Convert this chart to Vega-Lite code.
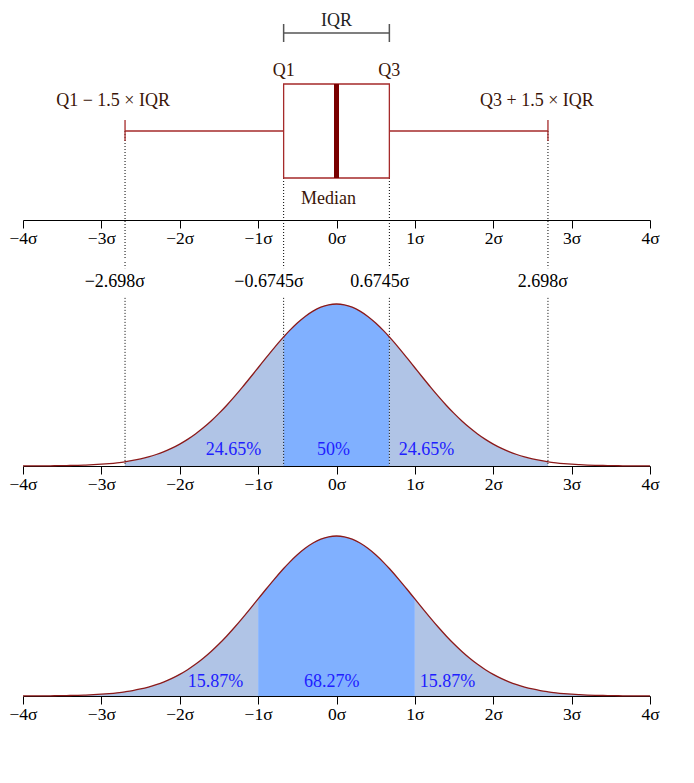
{
  "$schema": "https://vega.github.io/schema/vega-lite/v6.json",
  "padding": {"left": 8, "top": 10, "right": 5, "bottom": 5},
  "spacing": 0,
  "background": "white",
  "config": {
    "view": {"stroke": null},
    "font": "Liberation Serif",
    "axis": {"labelFont": "Liberation Serif", "labelFontSize": 17.5, "labelColor": "#000000", "tickColor": "#000000", "domainColor": "#000000", "tickSize": 8, "labelPadding": 1, "grid": false, "title": null, "labelFlush": false, "labelOverlap": false},
    "text": {"font": "Liberation Serif", "fontSize": 18}
  },
  "datasets": {
    "box": [{"lower": -2.698, "q1": -0.6745, "median": 0, "q3": 0.6745, "upper": 2.698}],
    "cuts": [
      {"x": -2.698, "label": "−2.698σ"},
      {"x": -0.6745, "label": "−0.6745σ"},
      {"x": 0.6745, "label": "0.6745σ"},
      {"x": 2.698, "label": "2.698σ"}
    ],
    "pdf": [
      {"x": -4.0, "y": 0.00013}, {"x": -3.9, "y": 0.0002}, {"x": -3.8, "y": 0.00029}, {"x": -3.7, "y": 0.00042}, {"x": -3.6, "y": 0.00061},
      {"x": -3.5, "y": 0.00087}, {"x": -3.4, "y": 0.00123}, {"x": -3.3, "y": 0.00172}, {"x": -3.2, "y": 0.00238}, {"x": -3.1, "y": 0.00327},
      {"x": -3.0, "y": 0.00443}, {"x": -2.9, "y": 0.00595}, {"x": -2.8, "y": 0.00792}, {"x": -2.7, "y": 0.01042}, {"x": -2.698, "y": 0.01048},
      {"x": -2.6, "y": 0.01358}, {"x": -2.5, "y": 0.01753}, {"x": -2.4, "y": 0.02239}, {"x": -2.3, "y": 0.02833}, {"x": -2.2, "y": 0.03547},
      {"x": -2.1, "y": 0.04398}, {"x": -2.0, "y": 0.05399}, {"x": -1.9, "y": 0.06562}, {"x": -1.8, "y": 0.07895}, {"x": -1.7, "y": 0.09405},
      {"x": -1.6, "y": 0.11092}, {"x": -1.5, "y": 0.12952}, {"x": -1.4, "y": 0.14973}, {"x": -1.3, "y": 0.17137}, {"x": -1.2, "y": 0.19419},
      {"x": -1.1, "y": 0.21785}, {"x": -1.0, "y": 0.24197}, {"x": -0.9, "y": 0.26609}, {"x": -0.8, "y": 0.28969}, {"x": -0.7, "y": 0.31225},
      {"x": -0.6745, "y": 0.31777}, {"x": -0.6, "y": 0.33322}, {"x": -0.5, "y": 0.35207}, {"x": -0.4, "y": 0.36827}, {"x": -0.3, "y": 0.38139},
      {"x": -0.2, "y": 0.39104}, {"x": -0.1, "y": 0.39695}, {"x": 0.0, "y": 0.39894}, {"x": 0.1, "y": 0.39695}, {"x": 0.2, "y": 0.39104},
      {"x": 0.3, "y": 0.38139}, {"x": 0.4, "y": 0.36827}, {"x": 0.5, "y": 0.35207}, {"x": 0.6, "y": 0.33322}, {"x": 0.6745, "y": 0.31777},
      {"x": 0.7, "y": 0.31225}, {"x": 0.8, "y": 0.28969}, {"x": 0.9, "y": 0.26609}, {"x": 1.0, "y": 0.24197}, {"x": 1.1, "y": 0.21785},
      {"x": 1.2, "y": 0.19419}, {"x": 1.3, "y": 0.17137}, {"x": 1.4, "y": 0.14973}, {"x": 1.5, "y": 0.12952}, {"x": 1.6, "y": 0.11092},
      {"x": 1.7, "y": 0.09405}, {"x": 1.8, "y": 0.07895}, {"x": 1.9, "y": 0.06562}, {"x": 2.0, "y": 0.05399}, {"x": 2.1, "y": 0.04398},
      {"x": 2.2, "y": 0.03547}, {"x": 2.3, "y": 0.02833}, {"x": 2.4, "y": 0.02239}, {"x": 2.5, "y": 0.01753}, {"x": 2.6, "y": 0.01358},
      {"x": 2.698, "y": 0.01048}, {"x": 2.7, "y": 0.01042}, {"x": 2.8, "y": 0.00792}, {"x": 2.9, "y": 0.00595}, {"x": 3.0, "y": 0.00443},
      {"x": 3.1, "y": 0.00327}, {"x": 3.2, "y": 0.00238}, {"x": 3.3, "y": 0.00172}, {"x": 3.4, "y": 0.00123}, {"x": 3.5, "y": 0.00087},
      {"x": 3.6, "y": 0.00061}, {"x": 3.7, "y": 0.00042}, {"x": 3.8, "y": 0.00029}, {"x": 3.9, "y": 0.0002}, {"x": 4.0, "y": 0.00013}
    ],
    "pct_iqr": [
      {"x": -1.314, "label": "24.65%"},
      {"x": -0.038, "label": "50%"},
      {"x": 1.148, "label": "24.65%"}
    ],
    "pct_sigma": [
      {"x": -1.544, "label": "15.87%"},
      {"x": -0.06, "label": "68.27%"},
      {"x": 1.416, "label": "15.87%"}
    ]
  },
  "vconcat": [
    {
      "width": 627,
      "height": 250,
      "data": {"name": "box"},
      "encoding": {
        "y": {"type": "quantitative", "scale": {"domain": [-40, 210], "nice": false, "zero": false}, "axis": null}
      },
      "layer": [
        {
          "data": {"name": "cuts"},
          "transform": [{"filter": "abs(datum.x) > 1"}],
          "mark": {"type": "rule", "color": "#000000", "strokeWidth": 1, "strokeDash": [1, 2]},
          "encoding": {
            "x": {"field": "x", "type": "quantitative", "scale": {"domain": [-4, 4], "nice": false, "zero": false}, "axis": {"offset": -40, "values": [-4, -3, -2, -1, 0, 1, 2, 3, 4], "labelExpr": "replace(format(datum.value, 'd'), '-', '−') + 'σ'"}},
            "y": {"datum": 89}, "y2": {"datum": -40}
          }
        },
        {
          "data": {"name": "cuts"},
          "transform": [{"filter": "abs(datum.x) < 1"}],
          "mark": {"type": "rule", "color": "#000000", "strokeWidth": 1, "strokeDash": [1, 2]},
          "encoding": {"x": {"field": "x", "type": "quantitative"}, "y": {"datum": 42}, "y2": {"datum": -40}}
        },
        {
          "mark": {"type": "rule", "color": "#A52A2A", "strokeWidth": 1.3},
          "encoding": {"x": {"field": "lower", "type": "quantitative"}, "x2": {"field": "q1"}, "y": {"datum": 89}}
        },
        {
          "mark": {"type": "rule", "color": "#A52A2A", "strokeWidth": 1.3},
          "encoding": {"x": {"field": "q3", "type": "quantitative"}, "x2": {"field": "upper"}, "y": {"datum": 89}}
        },
        {
          "mark": {"type": "rule", "color": "#A52A2A", "strokeWidth": 1.3},
          "encoding": {"x": {"field": "lower", "type": "quantitative"}, "y": {"datum": 79}, "y2": {"datum": 100}}
        },
        {
          "mark": {"type": "rule", "color": "#A52A2A", "strokeWidth": 1.3},
          "encoding": {"x": {"field": "upper", "type": "quantitative"}, "y": {"datum": 79}, "y2": {"datum": 100}}
        },
        {
          "mark": {"type": "rect", "fill": "#ffffff", "stroke": "#A52A2A", "strokeWidth": 1.3},
          "encoding": {"x": {"field": "q1", "type": "quantitative"}, "x2": {"field": "q3"}, "y": {"datum": 42}, "y2": {"datum": 136}}
        },
        {
          "mark": {"type": "rule", "color": "#7A0000", "strokeWidth": 5},
          "encoding": {"x": {"field": "median", "type": "quantitative"}, "y": {"datum": 42}, "y2": {"datum": 136}}
        },
        {
          "mark": {"type": "rule", "color": "#555555", "strokeWidth": 1.5},
          "encoding": {"x": {"field": "q1", "type": "quantitative"}, "x2": {"field": "q3"}, "y": {"datum": 187}}
        },
        {
          "mark": {"type": "rule", "color": "#555555", "strokeWidth": 1.5},
          "encoding": {"x": {"field": "q1", "type": "quantitative"}, "y": {"datum": 178}, "y2": {"datum": 196}}
        },
        {
          "mark": {"type": "rule", "color": "#555555", "strokeWidth": 1.5},
          "encoding": {"x": {"field": "q3", "type": "quantitative"}, "y": {"datum": 178}, "y2": {"datum": 196}}
        },
        {
          "mark": {"type": "text", "color": "#222222", "baseline": "middle"},
          "encoding": {"x": {"field": "median", "type": "quantitative"}, "y": {"datum": 199}, "text": {"value": "IQR"}}
        },
        {
          "mark": {"type": "text", "color": "#3a1508", "baseline": "middle"},
          "encoding": {"x": {"field": "q1", "type": "quantitative"}, "y": {"datum": 149}, "text": {"value": "Q1"}}
        },
        {
          "mark": {"type": "text", "color": "#3a1508", "baseline": "middle"},
          "encoding": {"x": {"field": "q3", "type": "quantitative"}, "y": {"datum": 149}, "text": {"value": "Q3"}}
        },
        {
          "mark": {"type": "text", "color": "#3a1508", "baseline": "middle", "dx": -8},
          "encoding": {"x": {"field": "median", "type": "quantitative"}, "y": {"datum": 21}, "text": {"value": "Median"}}
        },
        {
          "mark": {"type": "text", "color": "#3a1508", "baseline": "middle", "dx": -12},
          "encoding": {"x": {"field": "lower", "type": "quantitative"}, "y": {"datum": 119}, "text": {"value": "Q1 − 1.5 × IQR"}}
        },
        {
          "mark": {"type": "text", "color": "#3a1508", "baseline": "middle", "dx": -11},
          "encoding": {"x": {"field": "upper", "type": "quantitative"}, "y": {"datum": 119}, "text": {"value": "Q3 + 1.5 × IQR"}}
        }
      ]
    },
    {
      "width": 627,
      "height": 204,
      "data": {"name": "pdf"},
      "encoding": {
        "x": {"field": "x", "type": "quantitative", "scale": {"domain": [-4, 4], "nice": false, "zero": false}, "axis": {"values": [-4, -3, -2, -1, 0, 1, 2, 3, 4], "labelExpr": "replace(format(datum.value, 'd'), '-', '−') + 'σ'"}},
        "y": {"type": "quantitative", "scale": {"domain": [0, 0.5023], "nice": false, "zero": false}, "axis": null}
      },
      "layer": [
        {
          "transform": [{"filter": "datum.x >= -2.698 && datum.x <= -0.6745"}],
          "mark": {"type": "area", "color": "#B0C4E6", "interpolate": "monotone"},
          "encoding": {"y": {"field": "y", "type": "quantitative"}}
        },
        {
          "transform": [{"filter": "datum.x >= -0.6745 && datum.x <= 0.6745"}],
          "mark": {"type": "area", "color": "#80B0FF", "interpolate": "monotone"},
          "encoding": {"y": {"field": "y", "type": "quantitative"}}
        },
        {
          "transform": [{"filter": "datum.x >= 0.6745 && datum.x <= 2.698"}],
          "mark": {"type": "area", "color": "#B0C4E6", "interpolate": "monotone"},
          "encoding": {"y": {"field": "y", "type": "quantitative"}}
        },
        {
          "data": {"name": "cuts"},
          "mark": {"type": "rule", "color": "#000000", "strokeWidth": 1, "strokeDash": [1, 2]},
          "encoding": {"y": {"datum": 0.5023}, "y2": {"datum": 0.487}}
        },
        {
          "data": {"name": "cuts"},
          "mark": {"type": "rule", "color": "#000000", "strokeWidth": 1, "strokeDash": [1, 2]},
          "encoding": {"y": {"datum": 0.414}, "y2": {"datum": 0}}
        },
        {
          "mark": {"type": "line", "color": "#8B1A1A", "strokeWidth": 1.3, "interpolate": "monotone"},
          "encoding": {"y": {"field": "y", "type": "quantitative"}}
        },
        {
          "data": {"name": "cuts"},
          "mark": {"type": "text", "color": "#000000", "align": "right", "baseline": "middle", "dx": 20},
          "encoding": {"y": {"datum": 0.4535}, "text": {"field": "label"}}
        },
        {
          "data": {"name": "pct_iqr"},
          "mark": {"type": "text", "color": "#2020FF", "baseline": "middle"},
          "encoding": {"y": {"datum": 0.04}, "text": {"field": "label"}}
        }
      ]
    },
    {
      "width": 627,
      "height": 203,
      "data": {"name": "pdf"},
      "encoding": {
        "x": {"field": "x", "type": "quantitative", "scale": {"domain": [-4, 4], "nice": false, "zero": false}, "axis": {"values": [-4, -3, -2, -1, 0, 1, 2, 3, 4], "labelExpr": "replace(format(datum.value, 'd'), '-', '−') + 'σ'"}},
        "y": {"type": "quantitative", "scale": {"domain": [0, 0.5061], "nice": false, "zero": false}, "axis": null}
      },
      "layer": [
        {
          "transform": [{"filter": "datum.x <= -1"}],
          "mark": {"type": "area", "color": "#B0C4E6", "interpolate": "monotone"},
          "encoding": {"y": {"field": "y", "type": "quantitative"}}
        },
        {
          "transform": [{"filter": "datum.x >= -1 && datum.x <= 1"}],
          "mark": {"type": "area", "color": "#80B0FF", "interpolate": "monotone"},
          "encoding": {"y": {"field": "y", "type": "quantitative"}}
        },
        {
          "transform": [{"filter": "datum.x >= 1"}],
          "mark": {"type": "area", "color": "#B0C4E6", "interpolate": "monotone"},
          "encoding": {"y": {"field": "y", "type": "quantitative"}}
        },
        {
          "mark": {"type": "line", "color": "#8B1A1A", "strokeWidth": 1.3, "interpolate": "monotone"},
          "encoding": {"y": {"field": "y", "type": "quantitative"}}
        },
        {
          "data": {"name": "pct_sigma"},
          "mark": {"type": "text", "color": "#2020FF", "baseline": "middle"},
          "encoding": {"y": {"datum": 0.034}, "text": {"field": "label"}}
        }
      ]
    }
  ]
}
